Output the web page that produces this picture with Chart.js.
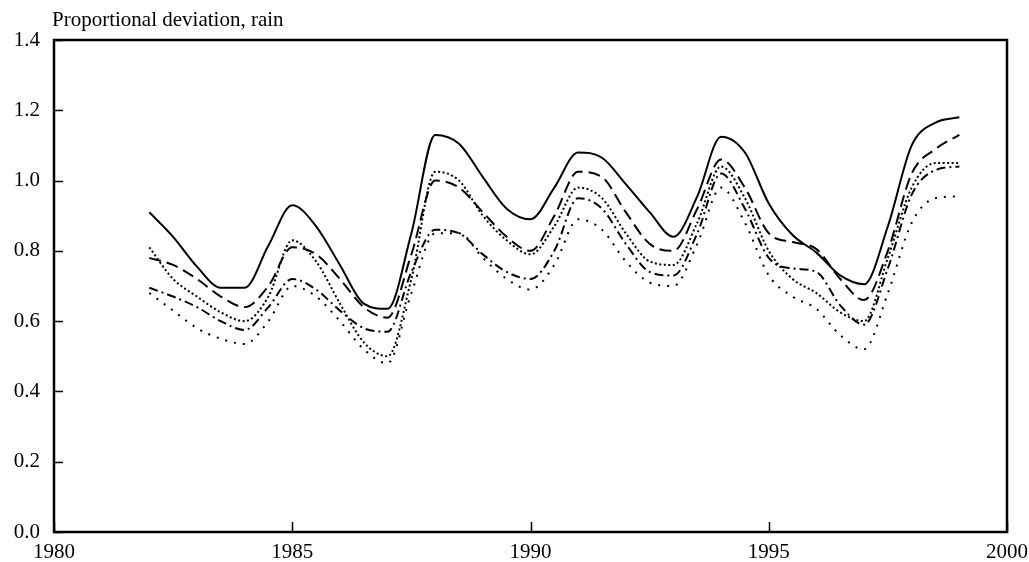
<!DOCTYPE html>
<html>
<head>
<meta charset="utf-8">
<title>Proportional deviation, rain</title>
<script src="https://cdn.jsdelivr.net/npm/chart.js@4.4.1/dist/chart.umd.min.js"></script>
<style>
    html, body { margin: 0; padding: 0; background: #ffffff; }
    #wrap { width: 1029px; height: 562px; }
</style>
</head>
<body>
<div id="wrap"><canvas id="rainChart" width="1029" height="562"></canvas></div>
<script>
// Proportional deviation of rain, five series, half-year steps
const years = [1982, 1982.5, 1983, 1983.5, 1984, 1984.5, 1985, 1985.5, 1986, 1986.5,
               1987, 1987.5, 1988, 1988.5, 1989, 1989.5, 1990, 1990.5, 1991, 1991.5,
               1992, 1992.5, 1993, 1993.5, 1994, 1994.5, 1995, 1995.5, 1996, 1996.5,
               1997, 1997.5, 1998, 1998.5, 1999];

const solidSeries = [0.91, 0.84, 0.755, 0.695, 0.695, 0.815, 0.93, 0.87, 0.76, 0.65,
                     0.635, 0.85, 1.13, 1.105, 1.01, 0.92, 0.89, 0.98, 1.08, 1.065,
                     0.99, 0.91, 0.84, 0.955, 1.125, 1.08, 0.935, 0.845, 0.795, 0.73,
                     0.705, 0.87, 1.10, 1.165, 1.18];

const dashedSeries = [0.78, 0.76, 0.72, 0.67, 0.64, 0.70, 0.81, 0.79, 0.72, 0.64,
                      0.61, 0.79, 1.00, 0.98, 0.91, 0.84, 0.80, 0.90, 1.025, 1.01,
                      0.91, 0.82, 0.80, 0.92, 1.06, 0.98, 0.85, 0.825, 0.805, 0.72,
                      0.66, 0.80, 1.02, 1.09, 1.13];

const dottedSeries = [0.81, 0.72, 0.67, 0.625, 0.60, 0.67, 0.83, 0.77, 0.65, 0.54,
                      0.50, 0.72, 1.025, 1.00, 0.90, 0.83, 0.79, 0.87, 0.98, 0.95,
                      0.85, 0.77, 0.76, 0.88, 1.04, 0.95, 0.80, 0.72, 0.68, 0.625,
                      0.60, 0.78, 0.98, 1.05, 1.05];

const dashDotSeries = [0.695, 0.67, 0.64, 0.60, 0.575, 0.64, 0.72, 0.69, 0.63, 0.58,
                       0.57, 0.74, 0.86, 0.85, 0.79, 0.74, 0.72, 0.80, 0.95, 0.92,
                       0.82, 0.74, 0.73, 0.85, 1.02, 0.92, 0.78, 0.75, 0.74, 0.645,
                       0.59, 0.75, 0.96, 1.03, 1.04];

const sparseSeries = [0.68, 0.63, 0.58, 0.55, 0.535, 0.60, 0.70, 0.67, 0.60, 0.52,
                      0.48, 0.68, 0.85, 0.85, 0.78, 0.72, 0.69, 0.76, 0.89, 0.86,
                      0.77, 0.71, 0.70, 0.82, 0.98, 0.88, 0.73, 0.67, 0.635, 0.56,
                      0.52, 0.68, 0.88, 0.95, 0.955];

const xTicks = [1980, 1985, 1990, 1995, 2000];
const yTicks = [0, 0.2, 0.4, 0.6, 0.8, 1.0, 1.2, 1.4];
const axisTitle = 'Proportional deviation, rain';

const serif = "'Liberation Serif', 'DejaVu Serif', serif";

function toPoints(values) {
    return values.map((v, i) => ({ x: years[i], y: v }));
}

function lineSet(label, values, dash) {
    return {
        label: label,
        data: toPoints(values),
        borderColor: '#000000',
        borderWidth: 2,
        borderDash: dash,
        borderCapStyle: 'butt',
        pointRadius: 0,
        fill: false,
        cubicInterpolationMode: 'monotone'
    };
}

// Frame round the plot, inward ticks and the axis caption
const frameAndTicks = {
    id: 'frameAndTicks',
    afterDraw(chart) {
        const { ctx, chartArea: a, scales } = chart;
        ctx.save();
        ctx.strokeStyle = '#000000';
        ctx.lineWidth = 2.5;
        ctx.strokeRect(a.left, a.top, a.right - a.left, a.bottom - a.top);

        ctx.lineWidth = 1.5;
        ctx.beginPath();
        yTicks.forEach(v => {
            const y = Math.round(scales.y.getPixelForValue(v)) + 0.5;
            ctx.moveTo(a.left, y);
            ctx.lineTo(a.left + 9, y);
        });
        xTicks.forEach(v => {
            const x = Math.round(scales.x.getPixelForValue(v)) + 0.5;
            ctx.moveTo(x, a.bottom);
            ctx.lineTo(x, a.bottom - 10);
        });
        ctx.stroke();

        ctx.fillStyle = '#000000';
        ctx.font = '21px ' + serif;
        ctx.textAlign = 'left';
        ctx.textBaseline = 'alphabetic';
        ctx.fillText(axisTitle, 52, 26);
        ctx.restore();
    }
};

new Chart(document.getElementById('rainChart'), {
    type: 'line',
    data: {
        datasets: [
            lineSet('Solid', solidSeries, []),
            lineSet('Dashed', dashedSeries, [12, 6]),
            lineSet('Dotted', dottedSeries, [2, 2.5]),
            lineSet('Dash-dot', dashDotSeries, [9, 4, 2, 4]),
            lineSet('Sparse dots', sparseSeries, [2, 7])
        ]
    },
    options: {
        responsive: false,
        animation: false,
        layout: {
            padding: { left: 0, right: 22, top: 40, bottom: 0 }
        },
        plugins: {
            legend: { display: false },
            tooltip: { enabled: false }
        },
        scales: {
            x: {
                type: 'linear',
                min: 1980,
                max: 2000,
                afterBuildTicks: scale => { scale.ticks = xTicks.map(v => ({ value: v })); },
                afterFit: scale => {
                    scale.height = 30;
                    scale.paddingLeft = 0;
                    scale.paddingRight = 0;
                },
                grid: { display: false, drawTicks: false },
                border: { display: false },
                ticks: {
                    color: '#000000',
                    font: { family: serif, size: 21 },
                    padding: 8,
                    maxRotation: 0,
                    callback: v => String(v)
                }
            },
            y: {
                min: 0,
                max: 1.4,
                afterBuildTicks: scale => { scale.ticks = yTicks.map(v => ({ value: v })); },
                afterFit: scale => {
                    scale.width = 54;
                    scale.paddingTop = 0;
                    scale.paddingBottom = 0;
                },
                grid: { display: false, drawTicks: false },
                border: { display: false },
                ticks: {
                    color: '#000000',
                    font: { family: serif, size: 21 },
                    padding: 14,
                    callback: v => v.toFixed(1)
                }
            }
        }
    },
    plugins: [frameAndTicks]
});
</script>
</body>
</html>
